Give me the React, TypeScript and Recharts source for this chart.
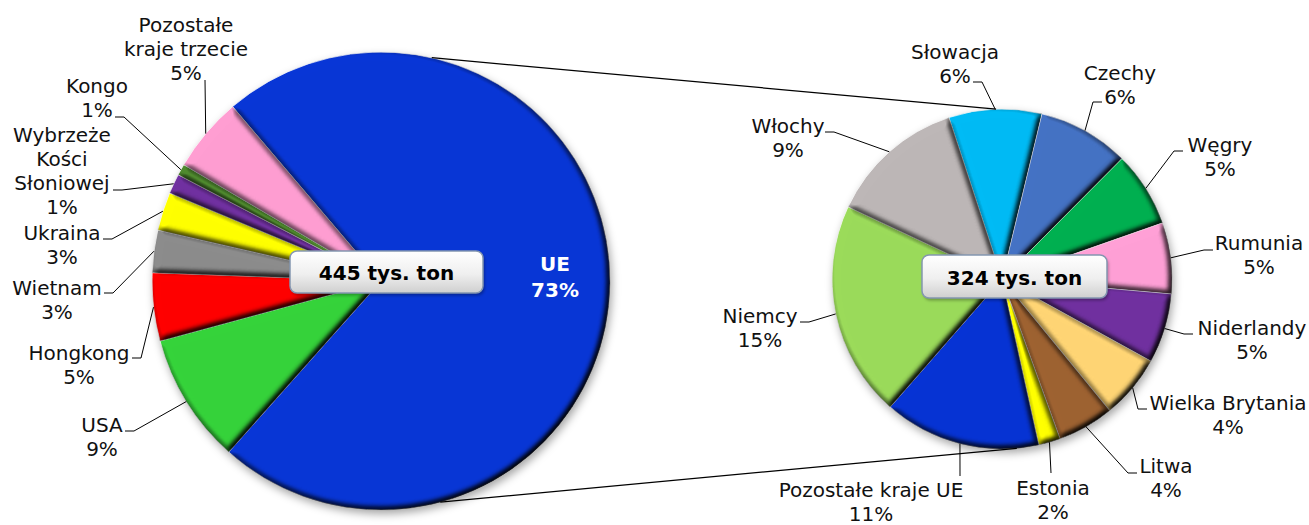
import React from "react"
import { PieChart, Pie, Cell, Customized } from "recharts"

// left pie: all imports, % of total
const leftNames = ["UE", "USA", "Hongkong", "Wietnam", "Ukraina", "Wybrzeże\nKości\nSłoniowej", "Kongo", "Pozostałe\nkraje trzecie"]
const leftValues = [72.8, 9.2, 4.8, 3.0, 2.7, 1.4, 0.8, 5.3]
const leftColors = ["#0836D6", "#35D33A", "#FF0000", "#8C8C8C", "#FFFF00", "#7030A0", "#4F8A2E", "#FF9ED2"]
const leftTotal = "445 tys. ton"

// right pie: EU breakdown, % of total
const rightNames = ["Słowacja", "Czechy", "Węgry", "Rumunia", "Niderlandy", "Wielka Brytania", "Litwa", "Estonia", "Pozostałe kraje UE", "Niemcy", "Włochy"]
const rightValues = [6.4, 6.3, 5.2, 4.9, 4.8, 4.4, 3.9, 1.5, 10.8, 14.9, 9.4]
const rightColors = ["#00BBF5", "#4472C4", "#00B050", "#FFA0D6", "#7030A0", "#FFD574", "#9E6231", "#FFFF00", "#0633D4", "#9BDB5A", "#BDB7B7"]
const rightTotal = "324 tys. ton"

const leftData = leftNames.map((name, i) => ({ name, value: leftValues[i] }))
const rightData = rightNames.map((name, i) => ({ name, value: rightValues[i] }))

// label placement: [text x, first baseline y, leader anchor x, anchor y, elbow] relative to pie centre
const leftLabelPos = [
  null,
  [-279, 151, -256, 150, 1],
  [-302, 79, -249, 77, 1],
  [-324, 14, -277, 12, 1],
  [-319, -41, -278, -42, 1],
  [-319, -139, -268, -91, 1],
  [-284, -188, -266, -164, 1],
  [-195, -249, -176, -201, 0],
]
const rightLabelPos = [
  [-47, -220, -29, -197, 1],
  [118, -199, 100, -177, 1],
  [218, -127, 181, -128, 1],
  [257, -29, 211, -29, 1],
  [250, 56, 191, 55, 1],
  [226, 131, 145, 130, 1],
  [164, 194, 135, 194, 1],
  [51, 216, 49, 194, 0],
  [-131, 218, -42, 197, 0],
  [-242, 44, -202, 43, 1],
  [-214, -146, -177, -147, 1],
]

const W = 1309
const H = 525
const LEFT = { cx: 381, cy: 281, r: 229, start: 130.4 }
const RIGHT = { cx: 1002, cy: 279, r: 170, start: 108.2 }
const RAD = Math.PI / 180
const FONT = "'DejaVu Sans', Verdana, sans-serif"

type Center = { cx: number; cy: number; r: number; start: number }

const polar = (c: Center, r: number, angle: number) => [
  c.cx + r * Math.cos(-angle * RAD),
  c.cy + r * Math.sin(-angle * RAD),
]

const makeLabel = (c: Center, layout: any[], data: { name: string; value: number }[]) => (props: any) => {
  const { midAngle, index } = props
  const d = data[index]
  const pct = Math.round(d.value) + "%"
  const lay = layout[index]
  if (!lay) {
    const [x, y] = polar(c, c.r * 0.76, midAngle)
    return (
      <text x={x} y={y - 12} textAnchor="middle" fontFamily={FONT} fontSize={20} fontWeight="bold" fill="#fff">
        <tspan x={x}>{d.name}</tspan>
        <tspan x={x} dy={26}>{pct}</tspan>
      </text>
    )
  }
  const [tx, ty, ax, ay, elbow] = lay
  const [px, py] = polar(c, c.r, midAngle)
  const Ax = c.cx + ax
  const Ay = c.cy + ay
  const pts = [[Ax, Ay]]
  if (elbow) pts.push([Ax + (px > Ax ? 9 : -9), Ay])
  pts.push([px, py])
  const lines = [...d.name.split("\n"), pct]
  const x = c.cx + tx
  return (
    <g>
      <polyline points={pts.map((p) => p.join(",")).join(" ")} fill="none" stroke="#000" strokeWidth={1} />
      <text x={x} y={c.cy + ty} textAnchor="middle" fontFamily={FONT} fontSize={20} fill="#111">
        {lines.map((l, i) => (
          <tspan key={i} x={x} dy={i === 0 ? 0 : 24}>
            {l}
          </tspan>
        ))}
      </text>
    </g>
  )
}

const Shadows = () => (
  <g>
    {[LEFT, RIGHT].map((c, i) => (
      <circle key={i} cx={c.cx + 2} cy={c.cy + 4} r={c.r} fill="rgba(0,0,0,0.35)" filter="url(#blurShadow)" />
    ))}
  </g>
)

const TotalBox = ({ x, y, w, h, text, base }: any) => (
  <g>
    <rect x={x + 1.5} y={y + 2.5} width={w} height={h} rx={7} fill="rgba(0,0,0,0.3)" filter="url(#boxBlur)" />
    <rect x={x} y={y} width={w} height={h} rx={7} fill="url(#boxFill)" stroke="#8496B0" strokeWidth={1.5} />
    <text x={x + w / 2} y={base} textAnchor="middle" fontFamily={FONT} fontSize={20} fontWeight="bold" fill="#000">
      {text}
    </text>
  </g>
)

// connector lines and total boxes, drawn over the pies
const Overlay = () => {
  const [l1x, l1y] = polar(LEFT, LEFT.r, 77.2)
  const [r1x, r1y] = polar(RIGHT, RIGHT.r, 92)
  const [l2x, l2y] = polar(LEFT, LEFT.r, -75)
  const [r2x, r2y] = polar(RIGHT, RIGHT.r, -85)
  return (
    <svg width={W} height={H} style={{ position: "absolute", left: 0, top: 0, pointerEvents: "none" }}>
      <defs>
        <filter id="boxBlur" x="-10%" y="-30%" width="120%" height="160%">
          <feGaussianBlur stdDeviation="1.5" />
        </filter>
        <linearGradient id="boxFill" x1="0" y1="0" x2="0" y2="1">
          <stop offset="0%" stopColor="#FFFFFF" />
          <stop offset="55%" stopColor="#EFEFEF" />
          <stop offset="100%" stopColor="#CFCFCF" />
        </linearGradient>
      </defs>
      <line x1={l1x} y1={l1y} x2={r1x} y2={r1y} stroke="#000" strokeWidth={1.2} />
      <line x1={l2x} y1={l2y} x2={r2x} y2={r2y} stroke="#000" strokeWidth={1.2} />
      <TotalBox x={LEFT.cx - 91} y={LEFT.cy - 30} w={193} h={42} text={leftTotal} base={LEFT.cy - 1} />
      <TotalBox x={RIGHT.cx - 80} y={RIGHT.cy - 24} w={185} h={43} text={rightTotal} base={RIGHT.cy + 6} />
    </svg>
  )
}

export default function App() {
  return (
    <div style={{ position: "absolute", left: 0, top: 0, width: W, height: H, background: "#fff" }}>
      <PieChart width={W} height={H} margin={{ top: 0, right: 0, bottom: 0, left: 0 }}>
        <defs>
          <filter id="bevel" x="-5%" y="-5%" width="110%" height="110%" colorInterpolationFilters="sRGB">
            <feGaussianBlur in="SourceAlpha" stdDeviation="3" result="blur" />
            <feDiffuseLighting in="blur" surfaceScale="6" diffuseConstant="1.15" lightingColor="#ffffff" result="diff">
              <feDistantLight azimuth="225" elevation="60" />
            </feDiffuseLighting>
            <feComposite in="SourceGraphic" in2="diff" operator="arithmetic" k1="1" k2="0" k3="0" k4="0" result="shaded" />
            <feComposite in="shaded" in2="SourceAlpha" operator="in" />
          </filter>
          <filter id="blurShadow" x="-20%" y="-20%" width="140%" height="140%">
            <feGaussianBlur stdDeviation="4" />
          </filter>
        </defs>
        <Customized component={Shadows} />
        <Pie
          data={leftData}
          dataKey="value"
          nameKey="name"
          cx={LEFT.cx}
          cy={LEFT.cy}
          outerRadius={LEFT.r}
          startAngle={LEFT.start}
          endAngle={LEFT.start - 360}
          stroke="rgba(255,255,255,0.7)"
          strokeWidth={1}
          label={makeLabel(LEFT, leftLabelPos, leftData)}
          labelLine={false}
          isAnimationActive={false}
        >
          {leftData.map((d, i) => (
            <Cell key={d.name} fill={leftColors[i]} filter="url(#bevel)" />
          ))}
        </Pie>
        <Pie
          data={rightData}
          dataKey="value"
          nameKey="name"
          cx={RIGHT.cx}
          cy={RIGHT.cy}
          outerRadius={RIGHT.r}
          startAngle={RIGHT.start}
          endAngle={RIGHT.start - 360}
          stroke="rgba(255,255,255,0.7)"
          strokeWidth={1}
          label={makeLabel(RIGHT, rightLabelPos, rightData)}
          labelLine={false}
          isAnimationActive={false}
        >
          {rightData.map((d, i) => (
            <Cell key={d.name} fill={rightColors[i]} filter="url(#bevel)" />
          ))}
        </Pie>
      </PieChart>
      <Overlay />
    </div>
  )
}
